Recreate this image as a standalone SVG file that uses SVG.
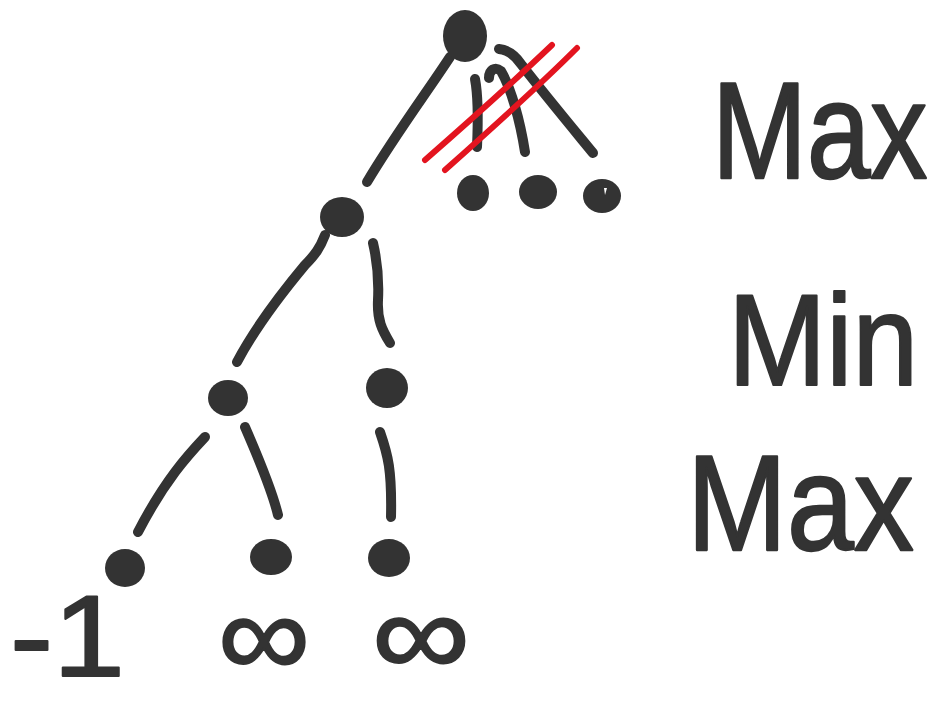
<svg xmlns="http://www.w3.org/2000/svg" width="935" height="701" viewBox="0 0 935 701">
<style>
.edge{fill:none;stroke:#333333;stroke-width:10;stroke-linecap:round;stroke-linejoin:round}
.cross{fill:none;stroke:#e3141f;stroke-width:6;stroke-linecap:round}
.dot{fill:#333333}
.lbl{font-family:"Liberation Sans","DejaVu Sans",sans-serif;fill:#333333;stroke:#333333;stroke-width:2;stroke-linejoin:round}
</style>
<rect width="935" height="701" fill="#ffffff"/>
<g id="connectors">
<path class="edge" d="M450,57 C425,95 395,135 367,182"/>
<path class="edge" d="M475,79 C479,100 478,125 477,147"/>
<path class="edge" d="M489,78 C489,70 495,66 501,71 C511,88 520,120 525,152"/>
<path class="edge" d="M499,49 C508,50 515,55 521,64 C545,95 570,125 593,153"/>
<path class="edge" d="M325,235 C320,248 315,255 305,265 C280,295 255,328 237,362"/>
<path class="edge" d="M373,243 C377,260 379,280 378,300 C377,320 382,330 390,343"/>
<path class="edge" d="M205,437 C188,455 165,480 138,532"/>
<path class="edge" d="M245,427 C255,450 272,490 278,515"/>
<path class="edge" d="M380,432 C388,455 392,470 391,517"/>
</g>
<g id="strike">
<path class="cross" d="M425,160 C465,125 510,85 552,45"/>
<path class="cross" d="M445,170 C490,130 535,90 577,48"/>
</g>
<g id="root"><ellipse class="dot" cx="465" cy="36" rx="22" ry="26"/></g>
<g id="c1"><ellipse class="dot" cx="473" cy="193" rx="16" ry="18"/></g>
<g id="c2"><ellipse class="dot" cx="538" cy="192" rx="19" ry="17"/></g>
<g id="c3"><ellipse class="dot" cx="602" cy="196" rx="19" ry="17"/><path d="M604,188 l3,0 l-2,7 z" fill="#ffffff"/></g>
<g id="min1"><ellipse class="dot" cx="342" cy="217" rx="22" ry="20"/></g>
<g id="max1"><ellipse class="dot" cx="228" cy="398" rx="20" ry="18"/></g>
<g id="max2"><ellipse class="dot" cx="387" cy="388" rx="21" ry="20"/></g>
<g id="leaf1"><ellipse class="dot" cx="125" cy="568" rx="20" ry="19"/></g>
<g id="leaf2"><ellipse class="dot" cx="271" cy="557" rx="21" ry="18"/></g>
<g id="leaf3"><ellipse class="dot" cx="389" cy="558" rx="21" ry="19"/></g>
<g id="labels">
<text class="lbl" transform="translate(712,178) scale(1,1.2)" x="0" y="0" font-size="114">Max</text>
<text class="lbl" transform="translate(728,385) scale(1,1.1)" x="0" y="0" font-size="118">Min</text>
<text class="lbl" transform="translate(687,550) scale(1,1.13)" x="0" y="0" font-size="120">Max</text>
<text class="lbl" x="10" y="676" font-size="115" textLength="115" lengthAdjust="spacingAndGlyphs">-1</text>
<text class="lbl" x="218" y="676" font-size="118" textLength="92" lengthAdjust="spacingAndGlyphs">∞</text>
<text class="lbl" x="372" y="675" font-size="118" textLength="98" lengthAdjust="spacingAndGlyphs">∞</text>
</g>
</svg>
